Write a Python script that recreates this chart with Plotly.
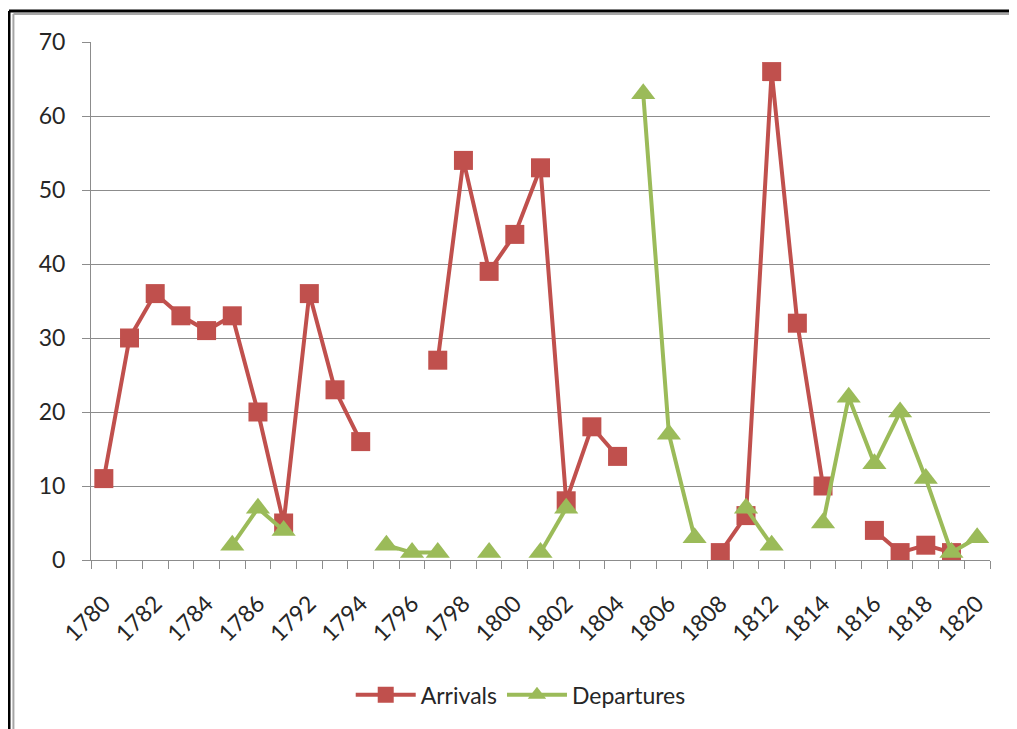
import plotly.graph_objects as go

years = ["1780", "1781", "1782", "1783", "1784", "1785", "1786", "1788", "1792", "1793",
         "1794", "1795", "1796", "1797", "1798", "1799", "1800", "1801", "1802", "1803",
         "1804", "1805", "1806", "1807", "1808", "1810", "1812", "1813", "1814", "1815",
         "1816", "1817", "1818", "1819", "1820"]

arrivals = [11, 30, 36, 33, 31, 33, 20, 5, 36, 23,
            16, None, None, 27, 54, 39, 44, 53, 8, 18,
            14, None, None, None, 1, 6, 66, 32, 10, None,
            4, 1, 2, 1, None]

departures = [None, None, None, None, None, 2, 7, 4, None, None,
              None, 2, 1, 1, None, 1, None, 1, 7, None,
              None, 63, 17, 3, None, 7, 2, None, 5, 22,
              13, 20, 11, 1, 3]

idx = list(range(len(years)))
red = "#C0504D"
green = "#9BBB59"
grid = "#8C8C8C"
font = "Lato, 'Open Sans', sans-serif"

fig = go.Figure()
fig.add_trace(go.Scatter(x=idx, y=arrivals, name="Arrivals", mode="lines+markers",
                         connectgaps=False,
                         line=dict(color=red, width=4),
                         marker=dict(symbol="square", size=19, color=red)))
fig.add_trace(go.Scatter(x=idx, y=departures, name="Departures", mode="lines+markers",
                         connectgaps=False,
                         line=dict(color=green, width=4),
                         marker=dict(symbol="triangle-up", size=21, color=green)))

# page body has an 8px margin, so the figure is a little smaller than the window
fig.update_layout(
    width=1009, height=721,
    margin=dict(l=83, r=27, t=34, b=169, autoexpand=False),
    paper_bgcolor="white", plot_bgcolor="white",
    font=dict(family=font, size=23, color="#262626"),
    showlegend=True,
    legend=dict(orientation="h", x=0.478, xanchor="center", y=-0.26, yanchor="middle",
                font=dict(size=23), itemwidth=60),
    xaxis=dict(range=[-0.5, len(years) - 0.5], tickmode="array",
               tickvals=idx[::2], ticktext=years[::2], tickangle=-45,
               ticks="", showgrid=False, zeroline=False, ticklabelstandoff=20,
               showline=True, linecolor=grid, linewidth=1,
               minor=dict(tickmode="linear", tick0=-0.5, dtick=1, ticks="outside",
                          ticklen=8, tickcolor=grid, showgrid=False)),
    yaxis=dict(range=[0, 70], dtick=10, showgrid=True, gridcolor=grid, gridwidth=1,
               zeroline=False, showline=True, linecolor=grid, linewidth=1,
               ticks="outside", ticklen=8, tickcolor=grid, ticklabelstandoff=12),
)

# outer frame (double line, left and top)
fig.add_shape(type="line", xref="paper", yref="paper", x0=-0.0912, x1=-0.0912, y0=-0.4, y1=1.0598,
              line=dict(color="black", width=3))
fig.add_shape(type="line", xref="paper", yref="paper", x0=-0.0863, x1=-0.0863, y0=-0.4, y1=1.054,
              line=dict(color="#A6A6A6", width=2))
fig.add_shape(type="line", xref="paper", yref="paper", x0=-0.0912, x1=1.1, y0=1.0598, y1=1.0598,
              line=dict(color="black", width=3))
fig.add_shape(type="line", xref="paper", yref="paper", x0=-0.0863, x1=1.1, y0=1.054, y1=1.054,
              line=dict(color="#A6A6A6", width=2))

fig.write_html("out.html")
